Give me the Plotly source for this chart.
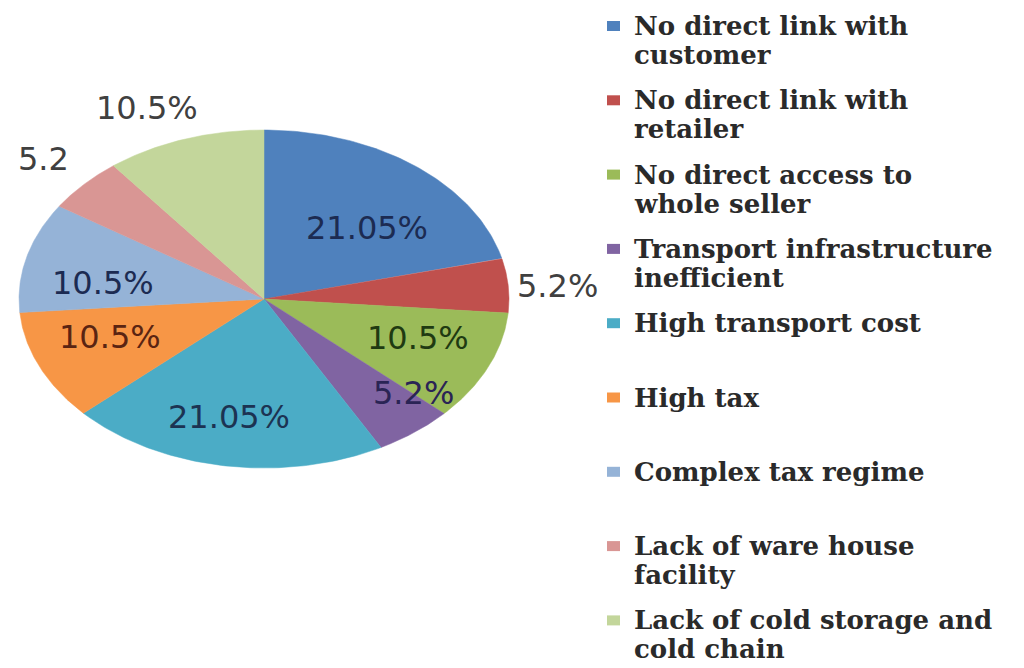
import numpy as np
import plotly.graph_objects as go

# ---- data ----
categories = [
    "No direct link with<br>customer",
    "No direct link with<br>retailer",
    "No direct access to<br>whole seller",
    "Transport infrastructure<br>inefficient",
    "High transport cost",
    "High tax",
    "Complex tax regime",
    "Lack of ware house<br>facility",
    "Lack of cold storage and<br>cold chain",
]
values = [21.05, 5.2, 10.5, 5.2, 21.05, 10.5, 10.5, 5.2, 10.5]
value_labels = ["21.05%", "5.2%", "10.5%", "5.2%", "21.05%", "10.5%", "10.5%", "5.2", "10.5%"]

# ---- style ----
colors = ["#4F81BD", "#C0504D", "#9BBB59", "#8064A2", "#4BACC6",
          "#F79646", "#95B3D7", "#D99694", "#C3D69B"]
label_colors = ["#1c2b52", "#404040", "#1f3a12", "#2a2455", "#1c3352",
                "#5a2412", "#1c2b52", "#404040", "#404040"]
label_radius = [0.594, 1.2, 0.67, 0.824, 0.712, 0.668, 0.664, 1.223, 1.227]
label_angle_shift = [7, 1, -3.5, -9.7, 2, 4, -6, 0, -4]  # degrees

# page has an 8px body margin; figure fills the rest of the 1024x668 window
OFF = 8
W, H = 1024 - OFF, 668 - OFF
cx_px, cy_px, rx_px, ry_px = 264 - OFF, 299 - OFF, 245, 169
x0 = -cx_px / rx_px
x1 = x0 + W / rx_px
y0 = -(H - cy_px) / ry_px
y1 = y0 + H / ry_px

fig = go.Figure()
total = sum(values)
cum = np.concatenate([[0], np.cumsum(values)]) / total
for i, (cat, v) in enumerate(zip(categories, values)):
    a0, a1 = cum[i] * 2 * np.pi, cum[i + 1] * 2 * np.pi
    t = np.linspace(a0, a1, 80)
    xs = np.concatenate([[0], np.sin(t), [0]])
    ys = np.concatenate([[0], np.cos(t), [0]])
    fig.add_trace(go.Scatter(
        x=xs, y=ys, fill="toself", fillcolor=colors[i], mode="lines",
        line=dict(color=colors[i], width=0.5), name=cat.replace("<br>", " "),
        showlegend=False, hoverinfo="name"))
    am = (a0 + a1) / 2 + np.radians(label_angle_shift[i])
    r = label_radius[i]
    fig.add_annotation(x=r * np.sin(am), y=r * np.cos(am), text=value_labels[i],
                       showarrow=False,
                       font=dict(family="DejaVu Sans", size=32, color=label_colors[i]))

# legend (drawn manually so that entries keep the reference's even spacing)
leg_text_x = 632 - OFF
leg_first = 26 - OFF
leg_step = 74.3
leg_line = 29
leg_font = 26
for i, cat in enumerate(categories):
    yc = leg_first + leg_step * i
    for j, line in enumerate(cat.split("<br>")):
        fig.add_annotation(
            xref="paper", yref="paper", x=leg_text_x / W,
            y=1 - (yc + j * leg_line) / H,
            xanchor="left", yanchor="middle", align="left", showarrow=False,
            text="<b>" + line + "</b>",
            font=dict(family="DejaVu Serif", size=leg_font, color="#2a2a2a"))
    fig.add_shape(
        type="rect", xref="paper", yref="paper",
        x0=(607 - OFF) / W, x1=(620 - OFF) / W,
        y0=1 - (yc + 5) / H, y1=1 - (yc - 5) / H,
        fillcolor=colors[i], line=dict(width=0))

fig.update_layout(
    width=W, height=H,
    margin=dict(l=0, r=0, t=0, b=0),
    paper_bgcolor="white", plot_bgcolor="white",
    showlegend=False,
    xaxis=dict(range=[x0, x1], visible=False, fixedrange=True),
    yaxis=dict(range=[y0, y1], visible=False, fixedrange=True),
)

fig.write_html("out.html")
